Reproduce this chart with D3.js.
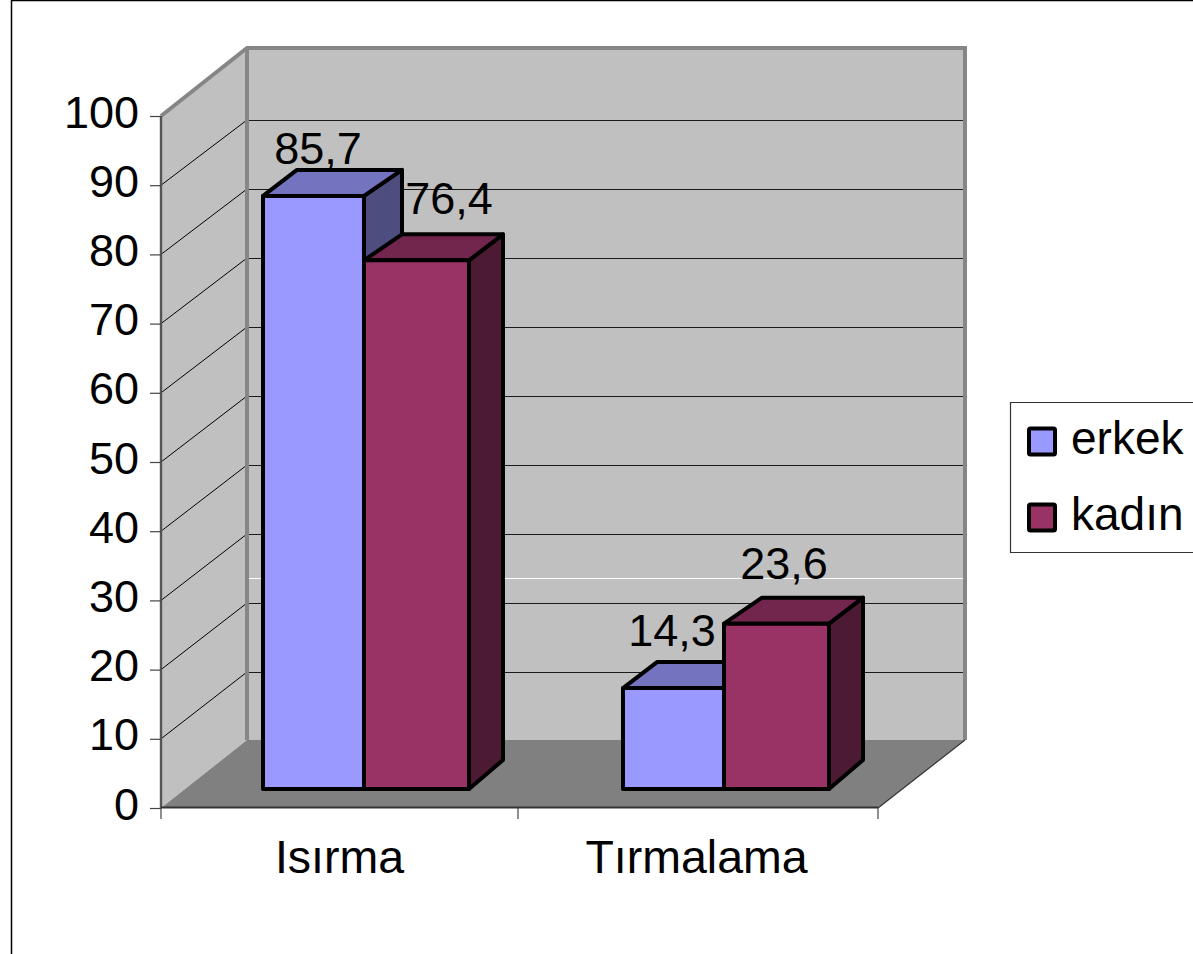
<!DOCTYPE html>
<html><head><meta charset="utf-8">
<script src="https://cdnjs.cloudflare.com/ajax/libs/d3/7.8.5/d3.min.js"></script>
<style>html,body{margin:0;padding:0;background:#fff}svg{display:block}text{font-family:"Liberation Sans",Arial,sans-serif;fill:#000}</style>
</head><body><svg id="c" width="1193" height="954"></svg>
<script>
const categories = ["Isırma", "Tırmalama"];
const seriesNames = ["erkek", "kadın"];
const erkekValues = [85.7, 14.3];
const kadinValues = [76.4, 23.6];
const valueLabels = ["85,7", "14,3"];
const kadinLabels = ["76,4", "23,6"];
const yTicks = [0,10,20,30,40,50,60,70,80,90,100];
const fillColors = ["#9999ff", "#993366"];
const topColors = ["#7373bf", "#73264d"];
const sideColors = ["#4d4d80", "#4d1a33"];

const svg = d3.select("#c");
// layout
const L = 161, R = 878, DX = 86, FRONT0 = 808, FRONT100 = 116, BACK0 = 740, BACK100 = 48;
const yFront = d3.scaleLinear().domain([0,100]).range([FRONT0, FRONT100]);
const yGrid  = d3.scaleLinear().domain([0,100]).range([741, 51]);
const x0 = d3.scaleBand().domain(categories).range([L, R-3]);
const fontAxis = 45, fontCat = 46.5, fontLeg = 46;

// outer frame
svg.append("path").attr("d","M11.5,954V0.5H1193").attr("fill","none").attr("stroke","#000").attr("stroke-width",1.5);

// walls and floor
const backR = R + DX + 1;
svg.append("rect").attr("x",L+DX).attr("y",BACK100).attr("width",backR-L-DX).attr("height",BACK0-BACK100).attr("fill","#c0c0c0");
svg.append("path").attr("d",`M${L},${FRONT100}L${L+DX},${BACK100}V${BACK0}L${L},${FRONT0}Z`).attr("fill","#c0c0c0");
svg.append("path").attr("d",`M${L},${FRONT0}L${L+DX},${BACK0}H${backR}L${R},${FRONT0}Z`).attr("fill","#808080");

// gridlines
const gridTicks = yTicks.slice(1,-1);
svg.append("g").selectAll("line").data(gridTicks).join("line")
  .attr("x1",L+DX).attr("x2",backR).attr("y1",d=>yGrid(d)+.5).attr("y2",d=>yGrid(d)+.5)
  .attr("stroke","#1a1a1a").attr("stroke-width",1);
svg.append("g").selectAll("line").data(gridTicks).join("line")
  .attr("x1",L).attr("x2",L+DX).attr("y1",d=>yFront(d)).attr("y2",d=>yGrid(d))
  .attr("stroke","#000").attr("stroke-width",1);
// stray white line in the source picture
svg.append("line").attr("x1",L+DX+2).attr("x2",backR).attr("y1",578.5).attr("y2",578.5).attr("stroke","#fff").attr("stroke-width",1);

// wall edges
svg.append("path").attr("d",`M${L},${FRONT100}L${L+DX},${BACK100}H${backR}V${BACK0}`).attr("fill","none").attr("stroke","#868686").attr("stroke-width",4);
svg.append("line").attr("x1",L+DX).attr("x2",L+DX).attr("y1",BACK100).attr("y2",BACK0).attr("stroke","#868686").attr("stroke-width",4);
svg.append("line").attr("x1",backR).attr("x2",R).attr("y1",BACK0).attr("y2",FRONT0).attr("stroke","#333").attr("stroke-width",1.2);

// y axis
const yAxis = d3.axisLeft(yFront).tickValues(yTicks).tickSize(11).tickPadding(11).tickFormat(d3.format("d"));
const gy = svg.append("g").attr("transform",`translate(${L},0)`).call(yAxis);
gy.select(".domain").attr("stroke","#555").attr("stroke-width",2.4).attr("d",`M0,${FRONT100}V${FRONT0}`);
gy.selectAll(".tick line").attr("stroke","#444").attr("stroke-width",1.2);
gy.selectAll("text").attr("font-size",fontAxis).attr("dy",11).attr("font-family",null);

// floor front edge and category axis
const xAxis = d3.axisBottom(x0).tickSize(0).tickPadding(0);
const gx = svg.append("g").attr("transform",`translate(0,${FRONT0})`).call(xAxis);
gx.select(".domain").remove();
gx.selectAll("text").attr("font-size",fontCat).attr("dy",65).attr("font-family",null);
svg.append("line").attr("x1",L).attr("x2",R).attr("y1",FRONT0-.5).attr("y2",FRONT0-.5).attr("stroke","#333").attr("stroke-width",2);
svg.append("g").selectAll("line").data([...categories.map(c=>x0(c)), R]).join("line")
  .attr("x1",d=>d).attr("x2",d=>d).attr("y1",FRONT0).attr("y2",FRONT0+11).attr("stroke","#444").attr("stroke-width",1.2);

// data labels (drawn beneath the boxes)
const labelNudge = [[[ 55,-32],[ 49,-44]],[[ 85,-46],[ 60,-47]]];
const barYOffset = -19;
const seriesData = [erkekValues, kadinValues];
const seriesLabels = [valueLabels, kadinLabels];
const yBar = v => yFront(v) + barYOffset;
const groupStart = [102, 105];
const frontEdges = [0,101,206], backEdges = [34,139,240], DY = 26;
const barLift = [0, -2];
seriesData.forEach((vals,s)=>{
  svg.append("g").selectAll("text").data(vals).join("text")
    .attr("x",(d,i)=>x0(categories[i])+groupStart[i]+frontEdges[s]+labelNudge[s][i][0])
    .attr("y",(d,i)=>yBar(d)+labelNudge[s][i][1])
    .attr("text-anchor","middle").attr("font-size",fontAxis)
    .text((d,i)=>seriesLabels[s][i]);
});

// 3D bars
const baseY = yBar(0);
seriesData.forEach((vals,s)=>{
  const g = svg.append("g").attr("stroke","#000").attr("stroke-width",4).attr("stroke-linejoin","round");
  vals.forEach((v,i)=>{
    const o = x0(categories[i]) + groupStart[i];
    const fl = o+frontEdges[s], fr = o+frontEdges[s+1], bl = o+backEdges[s], br = o+backEdges[s+1];
    const t = yBar(v) + barLift[i];
    g.append("path").attr("d",`M${fr},${t}L${br},${t-DY}V${baseY-DY-3}L${fr},${baseY}Z`).attr("fill",sideColors[s]);
    g.append("path").attr("d",`M${fl},${t}L${bl},${t-DY}H${br}L${fr},${t}Z`).attr("fill",topColors[s]);
    g.append("rect").attr("x",fl).attr("y",t).attr("width",fr-fl).attr("height",baseY-t).attr("fill",fillColors[s]);
  });
});

// legend
const lg = svg.append("g");
lg.append("path").attr("d","M1193,402.5H1010.5V552.5H1193").attr("fill","#fff").attr("stroke","#333").attr("stroke-width",1.2);
const legY = d3.scalePoint().domain(seriesNames).range([441.5,517.5]);
seriesNames.forEach((n,i)=>{
  lg.append("rect").attr("x",1029).attr("y",legY(n)-13).attr("width",26).attr("height",26).attr("rx",1.5)
    .attr("fill",fillColors[i]).attr("stroke","#000").attr("stroke-width",4);
  lg.append("text").attr("x",1071).attr("y",legY(n)+12.5).attr("font-size",fontLeg).text(n);
});
</script></body></html>
